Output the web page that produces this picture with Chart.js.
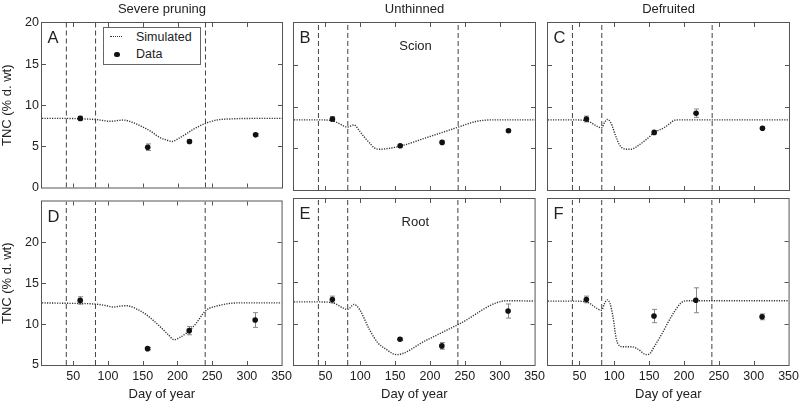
<!DOCTYPE html>
<html>
<head>
<meta charset="utf-8">
<script src="https://cdn.jsdelivr.net/npm/chart.js@4.4.1/dist/chart.umd.min.js"></script>
<style>
  html, body { margin: 0; padding: 0; background: #fff; }
  #fig { position: relative; width: 800px; height: 402px; overflow: hidden;
         font-family: "Liberation Sans", Arial, sans-serif; color: #222; }
  #fig canvas { position: absolute; }
  .legend { position: absolute; left: 103px; top: 27px; width: 96px; height: 36px;
            border: 1px solid #666; background: #fff; font-size: 12.5px; }
  .legend .txt { position: absolute; left: 32px; height: 16px; line-height: 16px; white-space: nowrap; }
  .legend .sample { position: absolute; left: 6px; top: 8px; width: 12px; border-top: 1.5px dotted #333; }
  .legend .dot { position: absolute; left: 10px; top: 23.5px; width: 5.6px; height: 5.6px;
                 border-radius: 50%; background: #111; }
</style>
</head>
<body>
<div id="fig">
  <div class="legend">
    <div class="sample"></div><div class="txt" style="top:0.7px">Simulated</div>
    <div class="dot"></div><div class="txt" style="top:18.3px">Data</div>
  </div>
</div>
<script>
// axis ticks
const dayTicks = [50, 100, 150, 200, 250, 300, 350];
const scionTicks = [0, 5, 10, 15, 20];
const rootTicks = [5, 10, 15, 20];
const phaseDays = [40, 82, 240];

// measured data (day of year)
const obsDays = [60, 157, 217, 312];

const scionPrunedObs = [8.4, 4.9, 5.6, 6.4];
const scionPrunedErr = [0.25, 0.4, 0.2, 0.15];
const scionThinObs = [8.5, 5.3, 5.7, 7.1];
const scionThinErr = [0.3, 0.15, 0.15, 0.15];
const scionDefrObs = [8.5, 6.9, 9.2, 7.4];
const scionDefrErr = [0.35, 0.2, 0.5, 0.15];

const rootPrunedObs = [12.9, 7.0, 9.2, 10.5];
const rootPrunedErr = [0.45, 0.15, 0.5, 0.9];
const rootThinObs = [12.9, 8.1, 7.3, 11.5];
const rootThinErr = [0.4, 0.15, 0.4, 0.85];
const rootDefrObs = [12.9, 10.9, 12.8, 10.8];
const rootDefrErr = [0.4, 0.8, 1.5, 0.35];

// simulated curves
const scionPrunedSimDays = [5, 40, 60, 84, 103, 122, 137, 150, 161, 175, 185, 192, 203, 212, 222, 232, 240, 256, 280, 310, 350];
const scionPrunedSim = [8.4, 8.4, 8.35, 8.25, 8.05, 8.2, 7.85, 7.35, 6.85, 6.05, 5.75, 5.6, 6.05, 6.5, 7.05, 7.5, 7.8, 8.2, 8.35, 8.4, 8.4];
const scionThinSimDays = [5, 40, 60, 82, 91, 99, 106, 113, 120, 127, 135, 157, 194, 241, 265, 290, 350];
const scionThinSim = [8.4, 8.4, 8.3, 7.55, 7.8, 7.05, 6.3, 5.65, 5.05, 4.88, 4.92, 5.25, 6.25, 7.55, 8.2, 8.4, 8.4];
const scionDefrSimDays = [5, 40, 60, 82, 86, 90, 95, 102, 107, 112, 117, 124, 133, 145, 158, 171, 180, 186, 195, 240, 350];
const scionDefrSim = [8.4, 8.4, 8.3, 7.45, 8.1, 8.45, 8.05, 6.45, 5.45, 5.0, 4.88, 4.88, 5.25, 6.0, 6.93, 7.45, 8.0, 8.35, 8.4, 8.4, 8.4];

const rootPrunedSimDays = [5, 40, 82, 95, 108, 118, 127, 140, 156, 175, 187, 195, 202, 213, 227, 240, 261, 289, 350];
const rootPrunedSim = [12.6, 12.55, 12.45, 12.3, 12.1, 12.2, 12.25, 11.9, 11.1, 9.7, 8.7, 8.1, 8.3, 8.9, 10.1, 11.6, 12.3, 12.6, 12.6];
const rootThinSimDays = [5, 40, 60, 82, 91, 99, 113, 125, 137, 152, 194, 241, 311, 350];
const rootThinSim = [12.6, 12.6, 12.5, 11.7, 12.3, 11.7, 9.3, 7.7, 6.9, 6.25, 7.95, 9.9, 12.75, 12.7];
const rootDefrSimDays = [5, 40, 60, 82, 86, 90, 94, 98, 103, 107, 112, 125, 134, 146, 150, 158, 168, 177, 186, 196, 205, 240, 350];
const rootDefrSim = [12.7, 12.7, 12.6, 11.6, 12.4, 12.85, 12.4, 10.9, 8.1, 7.35, 7.2, 7.2, 6.9, 6.25, 6.3, 7.3, 8.7, 10.1, 11.4, 12.5, 12.75, 12.75, 12.75];

const FONT = '"Liberation Sans", Arial, sans-serif';
const TXT = '#222';
const COLS = [{ l: 42, r: 282 }, { l: 294, r: 535 }, { l: 548, r: 789 }];
const ROWS = [{ t: 23, b: 190 }, { t: 199, b: 365 }];

// frame, inward ticks, error bars and panel texts
const framePlugin = {
  id: 'frame',
  beforeDatasetsDraw(chart, args, opts) {
    const ctx = chart.ctx, xs = chart.scales.x, ys = chart.scales.y;
    ctx.save();
    ctx.strokeStyle = '#888';
    ctx.lineWidth = 1;
    obsDays.forEach((d, i) => {
      const x = Math.round(xs.getPixelForValue(d)) + 0.5;
      const y1 = ys.getPixelForValue(opts.obs[i] - opts.err[i]);
      const y2 = ys.getPixelForValue(opts.obs[i] + opts.err[i]);
      ctx.beginPath();
      ctx.moveTo(x, y1); ctx.lineTo(x, y2);
      ctx.moveTo(x - 2.5, y1); ctx.lineTo(x + 2.5, y1);
      ctx.moveTo(x - 2.5, y2); ctx.lineTo(x + 2.5, y2);
      ctx.stroke();
    });
    ctx.restore();
  },
  afterDraw(chart, args, opts) {
    const ctx = chart.ctx, a = chart.chartArea, xs = chart.scales.x, ys = chart.scales.y;
    ctx.save();
    ctx.strokeStyle = '#555';
    ctx.lineWidth = 1;
    ctx.strokeRect(a.left - 0.5, a.top - 0.5, a.right - a.left + 1, a.bottom - a.top + 1);
    ctx.beginPath();
    dayTicks.filter(v => v > xs.min && v < xs.max).forEach(v => {
      const x = Math.round(xs.getPixelForValue(v)) + 0.5;
      ctx.moveTo(x, a.top); ctx.lineTo(x, a.top + 4);
      ctx.moveTo(x, a.bottom); ctx.lineTo(x, a.bottom - 4);
    });
    opts.yTicks.filter(v => v > ys.min && v < ys.max).forEach(v => {
      const y = Math.round(ys.getPixelForValue(v)) + 0.5;
      ctx.moveTo(a.left, y); ctx.lineTo(a.left + 4, y);
      ctx.moveTo(a.right, y); ctx.lineTo(a.right - 4, y);
    });
    ctx.stroke();

    ctx.fillStyle = TXT;
    ctx.textBaseline = 'alphabetic';
    ctx.textAlign = 'left';
    ctx.font = '16.5px ' + FONT;
    ctx.fillText(opts.letter, a.left + 5.5, a.top + 20);
    ctx.textAlign = 'center';
    ctx.font = '13px ' + FONT;
    if (opts.note) ctx.fillText(opts.note, (a.left + a.right) / 2 + 1, a.top + 27);
    if (opts.title) {
      ctx.textBaseline = 'middle';
      ctx.fillText(opts.title, (a.left + a.right) / 2, 9);
    }
    ctx.restore();
  }
};

const panels = [
  { letter: 'A', row: 0, col: 0, title: 'Severe pruning', note: '', obs: scionPrunedObs, err: scionPrunedErr, simDays: scionPrunedSimDays, sim: scionPrunedSim },
  { letter: 'B', row: 0, col: 1, title: 'Unthinned', note: 'Scion', obs: scionThinObs, err: scionThinErr, simDays: scionThinSimDays, sim: scionThinSim },
  { letter: 'C', row: 0, col: 2, title: 'Defruited', note: '', obs: scionDefrObs, err: scionDefrErr, simDays: scionDefrSimDays, sim: scionDefrSim },
  { letter: 'D', row: 1, col: 0, title: '', note: '', obs: rootPrunedObs, err: rootPrunedErr, simDays: rootPrunedSimDays, sim: rootPrunedSim },
  { letter: 'E', row: 1, col: 1, title: '', note: 'Root', obs: rootThinObs, err: rootThinErr, simDays: rootThinSimDays, sim: rootThinSim },
  { letter: 'F', row: 1, col: 2, title: '', note: '', obs: rootDefrObs, err: rootDefrErr, simDays: rootDefrSimDays, sim: rootDefrSim }
];

const fig = document.getElementById('fig');
const legendBox = fig.querySelector('.legend');

function makePanel(p) {
  const col = COLS[p.col], row = ROWS[p.row];
  const cTop = p.row === 0 ? 0 : row.t - 8;
  const cBottom = p.row === 0 ? row.b + 8 : 402;
  const canvas = document.createElement('canvas');
  canvas.width = col.r - col.l + 56;
  canvas.height = cBottom - cTop;
  canvas.style.left = (col.l - 42) + 'px';
  canvas.style.top = cTop + 'px';
  fig.insertBefore(canvas, legendBox);

  const yRange = p.row === 0 ? [0, 20] : [5, 25];
  const yTicks = p.row === 0 ? scionTicks : rootTicks;

  const datasets = [
    {
      data: obsDays.map((d, i) => ({ x: d, y: p.obs[i] })),
      showLine: false, pointRadius: 2.8, pointBackgroundColor: '#111', pointBorderWidth: 0
    },
    {
      data: p.simDays.map((d, i) => ({ x: d, y: p.sim[i] })),
      showLine: true, borderColor: '#333', borderWidth: 1.4, borderDash: [1.2, 1.3],
      pointRadius: 0, cubicInterpolationMode: 'monotone'
    },
    ...phaseDays.map(d => ({
      data: [{ x: d, y: yRange[0] }, { x: d, y: yRange[1] }],
      showLine: true, borderColor: '#444', borderWidth: 1, borderDash: [5, 3], pointRadius: 0
    }))
  ];

  new Chart(canvas, {
    type: 'scatter',
    data: { datasets },
    options: {
      responsive: false,
      animation: false,
      devicePixelRatio: 1,
      layout: { padding: { left: 0, right: 14, top: row.t - cTop, bottom: 0 } },
      plugins: {
        legend: { display: false },
        tooltip: { enabled: false },
        frame: { letter: p.letter, note: p.note, title: p.title, obs: p.obs, err: p.err, yTicks }
      },
      scales: {
        x: {
          type: 'linear', min: 5, max: 350,
          grid: { display: false, drawTicks: false },
          border: { display: false },
          afterBuildTicks: s => { s.ticks = dayTicks.map(v => ({ value: v })); },
          afterFit: s => { s.height = cBottom - row.b; },
          ticks: { display: p.row === 1, padding: 4, color: TXT, maxRotation: 0, autoSkip: false,
                   font: { family: FONT, size: 12.5 } },
          title: { display: p.row === 1, text: 'Day of year', padding: 0, color: TXT,
                   font: { family: FONT, size: 13 } }
        },
        y: {
          type: 'linear', min: yRange[0], max: yRange[1],
          grid: { display: false, drawTicks: false },
          border: { display: false },
          afterBuildTicks: s => { s.ticks = yTicks.map(v => ({ value: v })); },
          afterFit: s => { s.width = 42; },
          ticks: { display: p.col === 0, padding: 3, color: TXT, font: { family: FONT, size: 12.5 } },
          title: { display: p.col === 0, text: 'TNC (% d. wt)', padding: 0, color: TXT,
                   font: { family: FONT, size: 13 } }
        }
      }
    },
    plugins: [framePlugin]
  });
}

panels.forEach(makePanel);
</script>
</body>
</html>
